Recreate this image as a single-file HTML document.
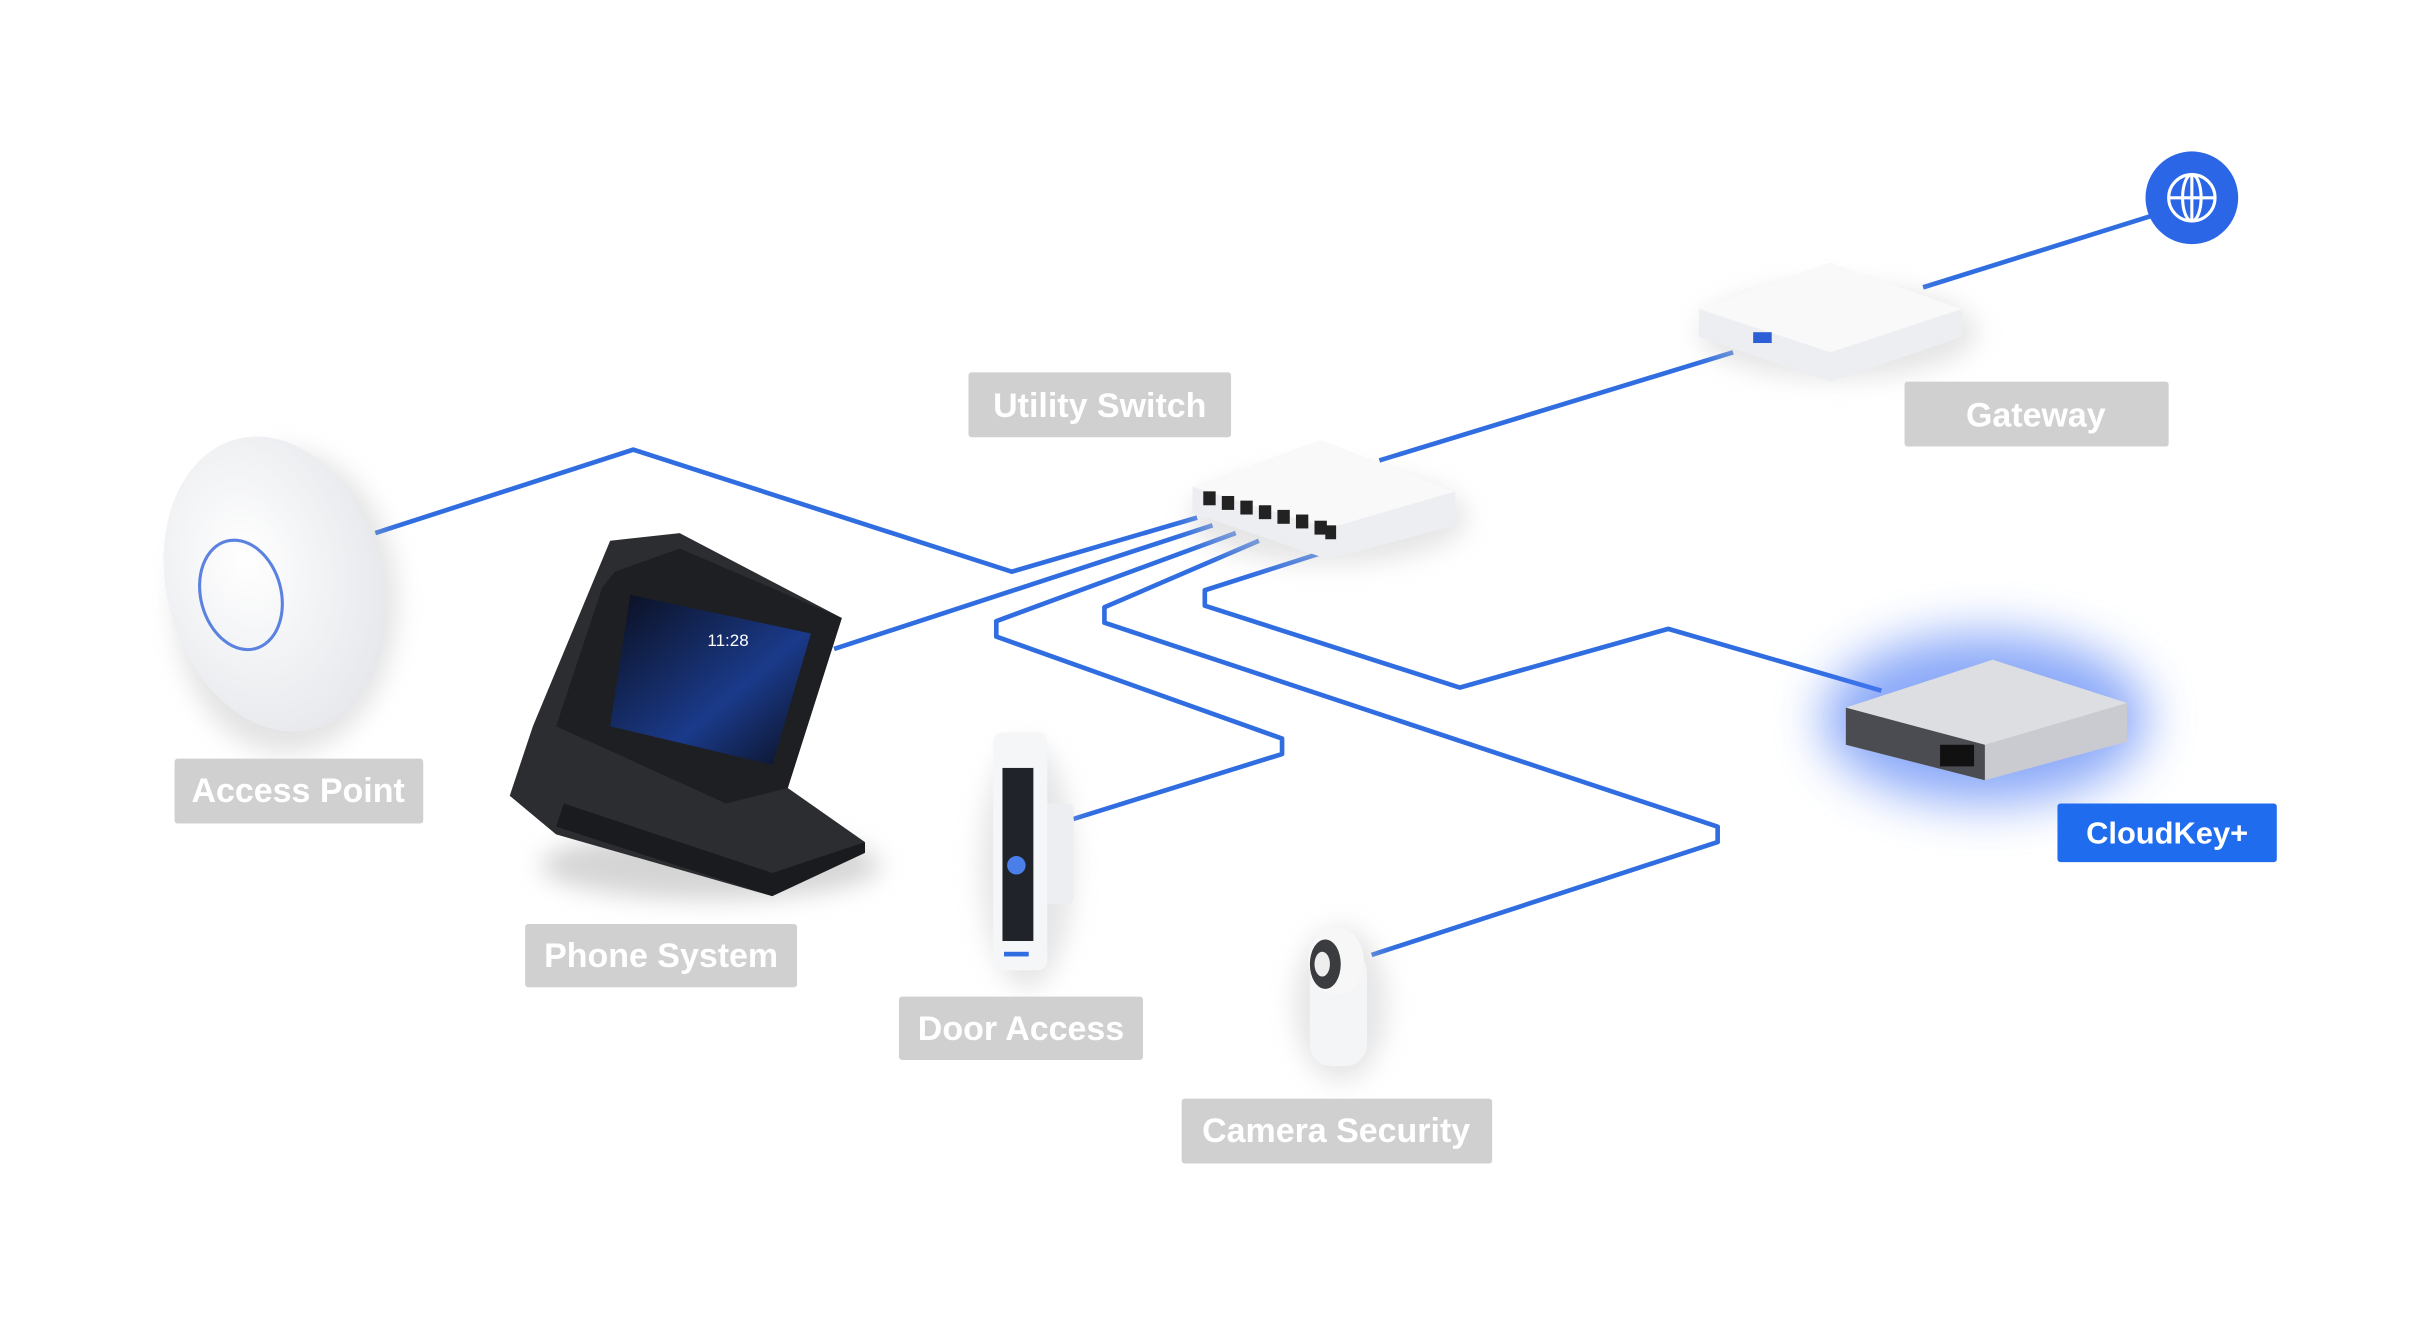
<!DOCTYPE html>
<html><head><meta charset="utf-8"><style>
html,body{margin:0;padding:0;background:#fff;}
svg{display:block;}
text{font-family:"Liberation Sans",sans-serif;}
</style></head><body>
<svg width="2422" height="1318" viewBox="0 0 1568 853" preserveAspectRatio="none" xmlns="http://www.w3.org/2000/svg">
<defs>
<filter id="sh" x="-50%" y="-50%" width="200%" height="200%"><feGaussianBlur stdDeviation="8"/></filter>
<filter id="glow" x="-50%" y="-50%" width="200%" height="200%"><feGaussianBlur stdDeviation="16"/></filter>
<radialGradient id="apg" cx="40%" cy="40%" r="70%"><stop offset="0" stop-color="#ffffff"/><stop offset="1" stop-color="#e4e6ea"/></radialGradient>
<linearGradient id="scr" x1="0" y1="0" x2="1" y2="1"><stop offset="0" stop-color="#0b0f1e"/><stop offset="0.6" stop-color="#1a3a8a"/><stop offset="1" stop-color="#0b0f1e"/></linearGradient>
</defs>
<g fill="none" stroke="#2f6de1" stroke-width="3" stroke-linejoin="round">
<polyline points="243,345 410,291 655,370 775,335"/>
<polyline points="540,420 785,340"/>
<polyline points="695,530 830,488 830,478 645,412 645,402 800,345"/>
<polyline points="888,618 1112,545 1112,535 715,403 715,393 815,350"/>
<polyline points="1218,447 1080,407 945,445 780,392 780,382 855,358"/>
<polyline points="893,298 1122,228"/>
<polyline points="1245,186 1392,140"/>
</g>
<circle cx="1419" cy="128" r="30" fill="#2a66e6"/>
<g fill="none" stroke="#fff" stroke-width="2"><circle cx="1419" cy="128" r="15"/><ellipse cx="1419" cy="128" rx="6" ry="15"/><line x1="1404" y1="128" x2="1434" y2="128"/><line x1="1419" y1="113" x2="1419" y2="143"/></g>
<ellipse cx="1190" cy="215" rx="90" ry="30" fill="#ccc" opacity="0.5" filter="url(#sh)"/>
<polygon points="1100,200 1185,170 1270,200 1270,218 1185,247 1100,218" fill="#eceef1"/>
<polygon points="1100,200 1185,170 1270,200 1185,228" fill="#f9f9fa"/>
<rect x="1135" y="215" width="12" height="7" fill="#2c5fd6"/>
<ellipse cx="860" cy="335" rx="90" ry="30" fill="#ccc" opacity="0.5" filter="url(#sh)"/>
<polygon points="772,315 855,285 942,318 942,340 860,362 772,332" fill="#eceef1"/>
<polygon points="772,315 855,285 942,318 860,342" fill="#f9f9fa"/>
<g fill="#222"><rect x="779" y="318" width="8" height="9"/><rect x="791" y="321" width="8" height="9"/><rect x="803" y="324" width="8" height="9"/><rect x="815" y="327" width="8" height="9"/><rect x="827" y="330" width="8" height="9"/><rect x="839" y="333" width="8" height="9"/><rect x="851" y="337" width="8" height="9"/><rect x="858" y="340" width="7" height="9"/></g>
<ellipse cx="185" cy="390" rx="72" ry="98" fill="#bbb" opacity="0.4" filter="url(#sh)"/>
<ellipse cx="178" cy="378" rx="70" ry="97" fill="url(#apg)" transform="rotate(-15 178 378)"/>
<ellipse cx="156" cy="385" rx="26" ry="36" fill="none" stroke="#5b82e0" stroke-width="2" transform="rotate(-15 156 385)"/>
<ellipse cx="460" cy="560" rx="110" ry="22" fill="#aaa" opacity="0.5" filter="url(#sh)"/>
<polygon points="395,350 440,345 545,400 510,510 560,545 500,580 360,540 330,515 345,470" fill="#2b2d31"/>
<polygon points="398,370 390,380 360,470 470,520 510,510 545,400 440,355" fill="#1d1f23"/>
<polygon points="408,385 525,410 500,495 395,470" fill="url(#scr)"/>
<text x="458" y="418" font-size="11" fill="#fff">11:28</text>
<polygon points="365,520 500,565 560,545 560,552 500,580 360,535" fill="#1a1b1e"/>
<ellipse cx="665" cy="560" rx="30" ry="80" fill="#ccc" opacity="0.5" filter="url(#sh)"/>
<rect x="670" y="520" width="25" height="65" rx="4" fill="#eceef1"/>
<rect x="643" y="474" width="35" height="154" rx="6" fill="#f5f6f8"/>
<rect x="649" y="497" width="20" height="112" fill="#202329"/>
<circle cx="658" cy="560" r="6" fill="#4a7ee8"/>
<rect x="650" y="616" width="16" height="3" fill="#2f6de1"/>
<ellipse cx="868" cy="650" rx="30" ry="50" fill="#ccc" opacity="0.5" filter="url(#sh)"/>
<rect x="848" y="615" width="37" height="75" rx="14" fill="#f4f5f7"/>
<ellipse cx="865" cy="622" rx="18" ry="22" fill="#f7f7f8"/>
<ellipse cx="858" cy="624" rx="10" ry="16" fill="#3a3c40"/>
<ellipse cx="856" cy="624" rx="5" ry="8" fill="#eee"/>
<ellipse cx="1285" cy="465" rx="105" ry="55" fill="#4d7cf5" opacity="0.65" filter="url(#glow)"/>
<polygon points="1195,458 1290,427 1377,455 1377,480 1285,505 1195,482" fill="#c9cbd0"/>
<polygon points="1195,458 1290,427 1377,455 1285,482" fill="#dcdee2"/>
<polygon points="1195,458 1285,482 1285,505 1195,482" fill="#4a4c52"/>
<rect x="1256" y="482" width="22" height="14" fill="#111"/>
<g font-size="22" font-weight="bold" fill="#fff" text-anchor="middle">
<rect x="627" y="241" width="170" height="42" rx="2" fill="#d0d0d0"/><text x="712" y="270">Utility Switch</text>
<rect x="1233" y="247" width="171" height="42" rx="2" fill="#d0d0d0"/><text x="1318" y="276">Gateway</text>
<rect x="113" y="491" width="161" height="42" rx="2" fill="#d0d0d0"/><text x="193" y="519">Access Point</text>
<rect x="340" y="598" width="176" height="41" rx="2" fill="#d0d0d0"/><text x="428" y="626">Phone System</text>
<rect x="582" y="645" width="158" height="41" rx="2" fill="#d0d0d0"/><text x="661" y="673">Door Access</text>
<rect x="765" y="711" width="201" height="42" rx="2" fill="#d0d0d0"/><text x="865" y="739">Camera Security</text>
<rect x="1332" y="520" width="142" height="38" rx="2" fill="#1f6cef"/><text x="1403" y="546" font-size="20">CloudKey+</text>
</g>
</svg>
</body></html>
